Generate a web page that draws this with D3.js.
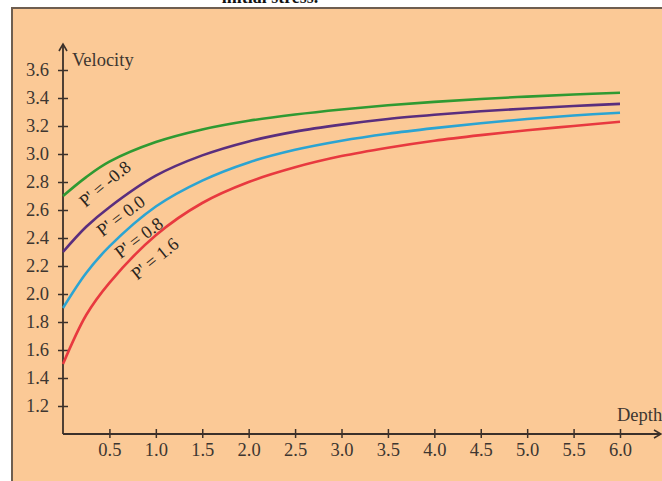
<!DOCTYPE html>
<html>
<head>
<meta charset="utf-8">
<script src="https://cdn.jsdelivr.net/npm/d3@7"></script>
<style>
  html, body { margin: 0; padding: 0; background: #fff; }
  svg { display: block; }
  text { font-family: "Liberation Serif", "DejaVu Serif", serif; }
</style>
</head>
<body>
<svg id="chart" width="662" height="481"></svg>
<script>
// values
const depths = [0, 0.25, 0.5, 1.0, 1.5, 2.0, 2.5, 3.0, 3.5, 4.0, 4.5, 5.0, 5.5, 6.0];
const vel_m08 = [2.70, 2.835, 2.945, 3.085, 3.175, 3.237, 3.282, 3.318, 3.348, 3.372, 3.393, 3.41, 3.425, 3.437];
const vel_00 = [2.30, 2.48, 2.62, 2.845, 2.99, 3.09, 3.16, 3.21, 3.25, 3.28, 3.305, 3.325, 3.343, 3.358];
const vel_08 = [1.90, 2.15, 2.34, 2.625, 2.81, 2.94, 3.03, 3.095, 3.145, 3.185, 3.22, 3.25, 3.275, 3.295];
const vel_16 = [1.50, 1.85, 2.08, 2.42, 2.65, 2.80, 2.905, 2.985, 3.045, 3.095, 3.135, 3.17, 3.20, 3.23];
const seriesNames = ["P' = -0.8", "P' = 0.0", "P' = 0.8", "P' = 1.6"];
const xTicks = [0.5, 1.0, 1.5, 2.0, 2.5, 3.0, 3.5, 4.0, 4.5, 5.0, 5.5, 6.0];
const yTicks = [1.2, 1.4, 1.6, 1.8, 2.0, 2.2, 2.4, 2.6, 2.8, 3.0, 3.2, 3.4, 3.6];

const colors = ['#2f9a32', '#5a2e7e', '#2ba4d2', '#e8393f'];
// label placement (center, along the curve)
const labelPos = [
  { x: 105, y: 184, a: -40 },
  { x: 121, y: 216, a: -37 },
  { x: 139, y: 238, a: -37 },
  { x: 155, y: 259, a: -39 }
];

const svg = d3.select('#chart');

// panel background + border
svg.append('rect')
  .attr('x', 12).attr('y', 8)
  .attr('width', 662).attr('height', 481)
  .attr('fill', '#fbc996')
  .attr('stroke', '#6e5e50')
  .attr('stroke-width', 2);

// caption from the page above, cut by the picture's top edge as in the reference
svg.append('text')
  .attr('x', 270).attr('y', 3)
  .attr('text-anchor', 'middle')
  .attr('font-size', 18)
  .attr('font-weight', 'bold')
  .attr('fill', '#111')
  .text('initial stress.');

const x = d3.scaleLinear().domain([0, 6]).range([63, 620]);
const y = d3.scaleLinear().domain([1.0, 3.6]).range([434, 70]);

const axisColor = '#3b302a';
const textColor = '#3d3631';
const fs = 18.5;

// y axis
const yAxis = svg.append('g')
  .attr('transform', 'translate(' + x(0) + ',0)')
  .call(d3.axisLeft(y).tickValues(yTicks).tickFormat(d3.format('.1f')).tickSize(4));
yAxis.select('.domain').remove();
yAxis.selectAll('.tick line')
  .attr('x1', -5).attr('x2', 5)
  .attr('stroke', axisColor).attr('stroke-width', 1.5);
yAxis.selectAll('.tick text')
  .attr('font-size', fs)
  .attr('font-family', '"Liberation Serif", serif')
  .attr('fill', textColor)
  .attr('x', -14);

// x axis
const xAxis = svg.append('g')
  .attr('transform', 'translate(0,' + y(1.0) + ')')
  .call(d3.axisBottom(x).tickValues(xTicks).tickFormat(d3.format('.1f')).tickSize(4).tickPadding(5));
xAxis.select('.domain').remove();
xAxis.selectAll('.tick line')
  .attr('y1', -5).attr('y2', 4)
  .attr('stroke', axisColor).attr('stroke-width', 1.5);
xAxis.selectAll('.tick text')
  .attr('font-size', fs)
  .attr('font-family', '"Liberation Serif", serif')
  .attr('fill', textColor);

// axis lines with arrows
const y0 = y(1.0);
svg.append('path')
  .attr('d', 'M' + x(0) + ',' + y0 + 'V45')
  .attr('stroke', axisColor).attr('stroke-width', 1.8).attr('fill', 'none');
svg.append('path')
  .attr('d', 'M' + (x(0) - 4) + ',51L' + x(0) + ',44L' + (x(0) + 4) + ',51')
  .attr('stroke', axisColor).attr('stroke-width', 1.6).attr('fill', 'none');
svg.append('path')
  .attr('d', 'M' + x(0) + ',' + y0 + 'H661')
  .attr('stroke', axisColor).attr('stroke-width', 1.8).attr('fill', 'none');
svg.append('path')
  .attr('d', 'M654,' + (y0 - 4) + 'L661,' + y0 + 'L654,' + (y0 + 4))
  .attr('stroke', axisColor).attr('stroke-width', 1.6).attr('fill', 'none');

svg.append('text')
  .attr('x', 72).attr('y', 66)
  .attr('font-size', fs)
  .attr('fill', textColor)
  .text('Velocity');
svg.append('text')
  .attr('x', 617).attr('y', 421)
  .attr('font-size', fs)
  .attr('fill', textColor)
  .text('Depth');

// curves
const allSeries = [vel_m08, vel_00, vel_08, vel_16];
const line = d3.line()
  .x(function(d, i) { return x(depths[i]); })
  .y(function(d) { return y(d); })
  .curve(d3.curveCatmullRom.alpha(0.5));

svg.selectAll('.curve')
  .data(allSeries)
  .enter()
  .append('path')
  .attr('class', 'curve')
  .attr('d', line)
  .attr('fill', 'none')
  .attr('stroke', function(d, i) { return colors[i]; })
  .attr('stroke-width', 2.6);

// curve labels
svg.selectAll('.curve_label')
  .data(seriesNames)
  .enter()
  .append('text')
  .attr('class', 'curve_label')
  .attr('transform', function(d, i) {
    return 'translate(' + labelPos[i].x + ',' + labelPos[i].y + ') rotate(' + labelPos[i].a + ')';
  })
  .attr('text-anchor', 'middle')
  .attr('dy', '0.32em')
  .attr('font-size', 18)
  .attr('fill', '#2a2520')
  .text(function(d) { return d; });
</script>
</body>
</html>
